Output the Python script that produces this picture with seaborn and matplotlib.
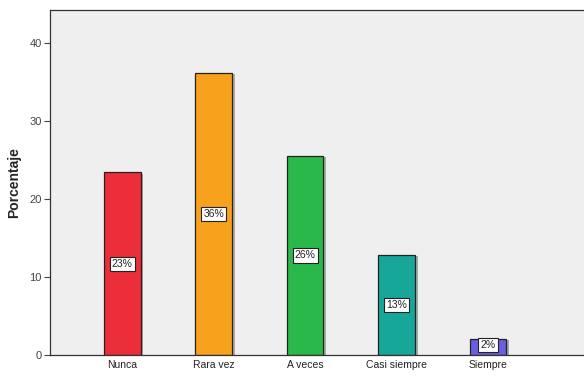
import matplotlib
matplotlib.use("Agg")
import matplotlib.pyplot as plt
import matplotlib.patheffects as pe
import seaborn as sns
import pandas as pd

categorias = ["Nunca", "Rara vez", "A veces", "Casi siempre", "Siempre"]
porcentajes = [23.4, 36.2, 25.5, 12.8, 2.1]
etiquetas = ["23%", "36%", "26%", "13%", "2%"]
colores = ["#ec2d3a", "#f7a11c", "#2bb84b", "#17a79a", "#6a5ee0"]

df = pd.DataFrame({"categoria": categorias, "porcentaje": porcentajes})

sns.set_style("white")
plt.rcParams["font.family"] = ["Liberation Sans", "DejaVu Sans"]

fig = plt.figure(figsize=(5.84, 3.76), dpi=100)
ax = fig.add_axes([0.0856, 0.056, 0.9144, 0.917])
ax.set_facecolor("#efefef")

sns.barplot(data=df, x="categoria", y="porcentaje", hue="categoria",
            palette=colores, order=categorias, width=0.4, legend=False,
            saturation=1, edgecolor="#222222", linewidth=0.9, ax=ax)

for bar in ax.patches:
    bar.set_path_effects([pe.SimplePatchShadow(offset=(2, -1), alpha=0.35), pe.Normal()])

for i, (v, t) in enumerate(zip(porcentajes, etiquetas)):
    ax.text(i, v / 2 if v > 5 else v / 2 + 0.2, t, ha="center", va="center",
            fontsize=7.5, color="#222222",
            bbox=dict(boxstyle="square,pad=0.2", facecolor="white",
                      edgecolor="#222222", linewidth=0.8))

ax.set_xlim(-0.79, 5.05)
ax.set_ylim(0, 44.2)
ax.set_yticks([0, 10, 20, 30, 40])
ax.set_xlabel("")
ax.set_ylabel("Porcentaje", fontsize=10, fontweight="bold", labelpad=6)
ax.tick_params(axis="y", direction="out", length=4, width=0.8, labelsize=8,
               colors="#444444", left=True, pad=2)
ax.tick_params(axis="x", length=0, labelsize=7.5, colors="#222222", pad=4)

for s in ["top", "left", "bottom", "right"]:
    ax.spines[s].set_color("#333333")
    ax.spines[s].set_linewidth(0.9)
ax.spines["right"].set_visible(False)

fig.savefig("out.png", dpi=100, facecolor="white")
